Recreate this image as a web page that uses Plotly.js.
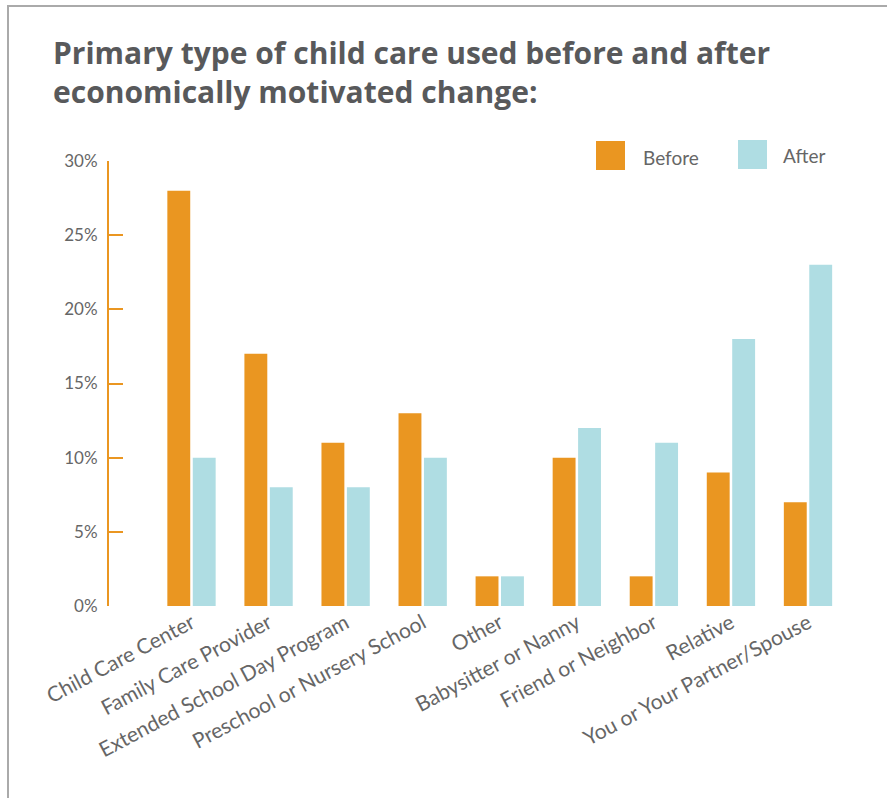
<!DOCTYPE html>
<html>
<head>
<meta charset="utf-8">
<script src="https://cdn.plot.ly/plotly-3.0.1.min.js"></script>
<style>
  html, body { margin: 0; padding: 0; background: #ffffff; }
  #chart { width: 887px; height: 798px; }
</style>
</head>
<body>
<div id="chart"></div>
<script>
// ---- Data ----
const categories = [
  "Child Care Center",
  "Family Care Provider",
  "Extended School Day Program",
  "Preschool or Nursery School",
  "Other",
  "Babysitter or Nanny",
  "Friend or Neighbor",
  "Relative",
  "You or Your Partner/Spouse"
];
const beforeValues = [28, 17, 11, 13, 2, 10, 2, 9, 7];
const afterValues  = [10, 8, 8, 10, 2, 12, 11, 18, 23];
const seriesNames = ["Before", "After"];
const yTickValues = [0, 5, 10, 15, 20, 25, 30];
const yTickLabels = ["0%", "5%", "10%", "15%", "20%", "25%", "30%"];
const titleText = "Primary type of child care used before and after<br>economically motivated change:";

// ---- Styles ----
const ORANGE = "#EA9621";
const BLUE = "#AFDDE3";
const TEXT = "#666666";
const TITLE_COLOR = "#58595B";
const FONT = "Lato, 'Open Sans', sans-serif";
const TITLE_FONT = "'Open Sans', Lato, sans-serif";

const W = 887, H = 798;
const M = { l: 109, r: 37, t: 161, b: 192 };
const PW = W - M.l - M.r, PH = H - M.t - M.b;
const px = x => (x - M.l) / PW;
const py = y => (H - M.b - y) / PH;

const traces = [
  { type: "bar", name: seriesNames[0], x: categories, y: beforeValues,
    marker: { color: ORANGE }, showlegend: false, hoverinfo: "x+y" },
  { type: "bar", name: seriesNames[1], x: categories, y: afterValues,
    marker: { color: BLUE }, showlegend: false, hoverinfo: "x+y" }
];

const layout = {
  width: W, height: H,
  margin: M,
  paper_bgcolor: "#ffffff",
  plot_bgcolor: "#ffffff",
  font: { family: FONT, color: TEXT },
  barmode: "group",
  bargap: 0.34,
  bargroupgap: 0.1,
  title: {
    text: titleText,
    font: { family: TITLE_FONT, size: 30, color: TITLE_COLOR, weight: 700 },
    x: 53 / W, xanchor: "left", xref: "container",
    y: 1 - 64 / H, yanchor: "top", yref: "container"
  },
  xaxis: {
    type: "category",
    range: [-1.0706, 8.545],
    showline: false, showgrid: false, zeroline: false,
    ticks: "",
    tickangle: -28,
    tickfont: { family: FONT, size: 21, color: TEXT },
    fixedrange: true
  },
  yaxis: {
    range: [0, 30],
    tickvals: yTickValues,
    ticktext: yTickLabels,
    showline: true, linecolor: ORANGE, linewidth: 2,
    ticks: "inside", ticklen: 14, tickwidth: 2, tickcolor: ORANGE,
    showgrid: false, zeroline: false,
    tickfont: { family: FONT, size: 17, color: TEXT },
    ticklabelstandoff: 6,
    fixedrange: true
  },
  shapes: [
    // frame
    { type: "line", xref: "paper", yref: "paper", x0: px(8), x1: px(8), y0: py(H), y1: py(6),
      line: { color: "#AAAAAA", width: 2 } },
    { type: "line", xref: "paper", yref: "paper", x0: px(7), x1: px(W), y0: py(6), y1: py(6),
      line: { color: "#AAAAAA", width: 2 } },
    // legend swatches
    { type: "rect", xref: "paper", yref: "paper", x0: px(596), x1: px(625), y0: py(170), y1: py(141),
      fillcolor: ORANGE, line: { width: 0 } },
    { type: "rect", xref: "paper", yref: "paper", x0: px(738), x1: px(767), y0: py(169), y1: py(140),
      fillcolor: BLUE, line: { width: 0 } }
  ],
  annotations: [
    { xref: "paper", yref: "paper", x: px(641), y: py(157), xanchor: "left", yanchor: "middle",
      text: seriesNames[0], showarrow: false, font: { family: FONT, size: 19, color: TEXT } },
    { xref: "paper", yref: "paper", x: px(781), y: py(155), xanchor: "left", yanchor: "middle",
      text: seriesNames[1], showarrow: false, font: { family: FONT, size: 19, color: TEXT } }
  ]
};

Plotly.newPlot("chart", traces, layout, { displayModeBar: false, staticPlot: true });
</script>
</body>
</html>
